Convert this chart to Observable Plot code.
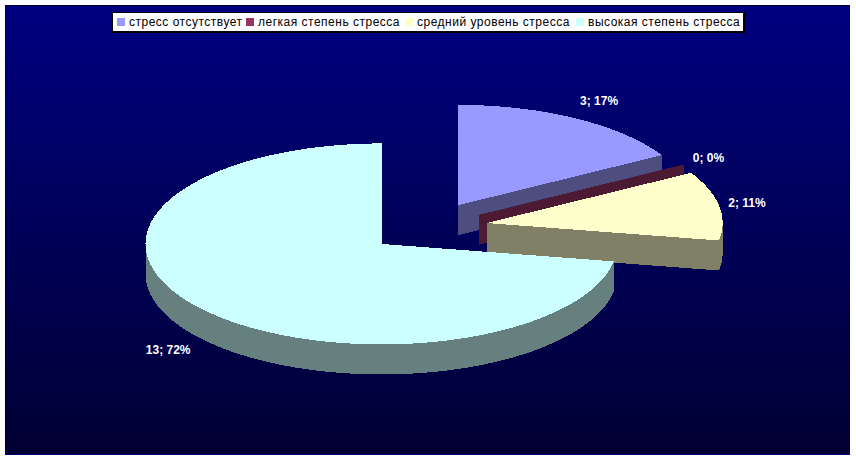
<!DOCTYPE html>
<html>
<head>
<meta charset="utf-8">
<script src="https://cdn.jsdelivr.net/npm/d3@7"></script>
<script src="https://cdn.jsdelivr.net/npm/@observablehq/plot@0.6"></script>
<style>
  html, body { margin: 0; padding: 0; background: #fff; }
  #stage { position: relative; width: 856px; height: 460px; overflow: hidden; font-family: "Liberation Sans", Arial, sans-serif; }
  #panel { position: absolute; left: 5px; top: 5px; width: 843px; height: 448px; border: 1px dotted #000;
           background: linear-gradient(#000080, #000033); }
  #chart { position: absolute; left: 0; top: 0; }
  #legend { position: absolute; left: 112px; top: 12px; width: 630px; height: 18px; background: #fff;
            border: 1px solid #000; border-right-width: 2px; border-bottom-width: 2px; box-sizing: content-box;
            font-size: 12px; line-height: 18px; color: #000; }
  #legend i { position: absolute; top: 5px; width: 8px; height: 8px; }
  #legend span { position: absolute; top: 0; letter-spacing: 0.5px; white-space: nowrap; }
</style>
</head>
<body>
<div id="stage">
  <div id="panel"></div>
  <div id="chart"></div>
  <div id="legend"></div>
</div>
<script>
// Data
const categories = ["стресс отсутствует", "легкая степень стресса", "средний уровень стресса", "высокая степень стресса"];
const counts = [3, 0, 2, 13];
const percents = [17, 0, 11, 72];

// Styling and layout, kept apart from the data
const topColors = ["#9999FF", "#993366", "#FFFFCC", "#CCFFFF"];
const sideColors = ["#4D4D80", "#4D1A33", "#808066", "#668080"];
const legendSwatchLeft = [4, 133, 292, 463];
const legendTextLeft = [16, 145, 304, 475];
const labelReach = [1.2, 1.12, 1.12, 1.18];
const explode = 0.2544;
const depth = 0.2985;

const total = d3.sum(counts);
const rad = (deg) => (deg * Math.PI) / 180;

const polys = [];
const labels = [];
let cumulative = 0;
counts.forEach((v, i) => {
  const a0 = (cumulative / total) * 360;
  cumulative += v;
  const a1 = (cumulative / total) * 360;
  const mid = (a0 + a1) / 2;
  const ox = explode * Math.sin(rad(mid));
  const oy = explode * Math.cos(rad(mid));
  const px = (a) => ox + Math.sin(rad(a));
  const py = (a) => oy + Math.cos(rad(a));
  const add = (id, color, pts) => pts.forEach(([x, y]) => polys.push({ id: `${i}-${id}`, color, x, y }));
  const arc = (from, to, shift = 0) => {
    const n = Math.max(1, Math.ceil(Math.abs(to - from)));
    return d3.range(n + 1).map((k) => {
      const a = from + ((to - from) * k) / n;
      return [px(a), py(a) - shift];
    });
  };
  // side wall on the clockwise end of the slice, when it faces the viewer
  const end = a1 % 360;
  if (end > 0 && end < 180) {
    add("wall", sideColors[i], [[ox, oy], [px(a1), py(a1)], [px(a1), py(a1) - depth], [ox, oy - depth]]);
  }
  // outer rim on the near half of the ellipse
  const r0 = Math.max(a0, 90), r1 = Math.min(a1, 270);
  if (r1 > r0) {
    add("rim", sideColors[i], [...arc(r0, r1), ...arc(r1, r0, depth)]);
  }
  // top face
  if (a1 > a0) {
    add("top", topColors[i], [[ox, oy], ...arc(a0, a1)]);
  }
  const reach = labelReach[i];
  const below = Math.cos(rad(mid)) < 0 ? depth : 0;
  labels.push({
    text: `${v}; ${percents[i]}%`,
    x: ox + reach * Math.sin(rad(mid)),
    y: oy + reach * Math.cos(rad(mid)) - below
  });
});

const plot = Plot.plot({
  width: 856,
  height: 460,
  margin: 0,
  style: { background: "transparent", overflow: "visible" },
  x: { domain: [-1, 1], range: [427 - 236, 427 + 236], axis: null },
  y: { domain: [-1, 1], range: [227 + 100.5, 227 - 100.5], axis: null },
  color: { type: "identity" },
  marks: [
    Plot.line(polys, { x: "x", y: "y", z: "id", fill: "color", stroke: "none", shapeRendering: "crispEdges" }),
    Plot.text(labels, {
      x: "x", y: "y", text: "text", fill: "#fff", fontWeight: "bold", fontSize: 12,
      fontFamily: "Liberation Sans, Arial, sans-serif", textAnchor: "middle", lineAnchor: "middle"
    })
  ]
});
document.getElementById("chart").appendChild(plot);

const legend = document.getElementById("legend");
categories.forEach((c, i) => {
  const sw = document.createElement("i");
  sw.style.left = legendSwatchLeft[i] + "px";
  sw.style.background = topColors[i];
  legend.appendChild(sw);
  const t = document.createElement("span");
  t.style.left = legendTextLeft[i] + "px";
  t.textContent = c;
  legend.appendChild(t);
});
</script>
</body>
</html>
